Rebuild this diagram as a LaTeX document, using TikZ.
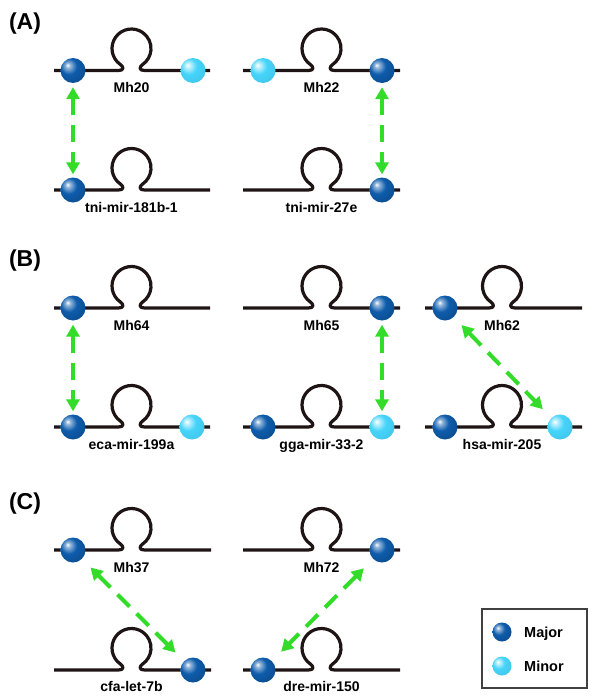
\documentclass[tikz,border=0pt]{standalone}
\usepackage{fontspec}
\setmainfont{Liberation Sans}
\usetikzlibrary{arrows.meta}
\definecolor{majorc}{RGB}{14,92,172}
\definecolor{minorc}{RGB}{70,212,250}
\definecolor{arrc}{RGB}{50,220,40}
\definecolor{rnac}{RGB}{30,20,20}
\pgfdeclareradialshading{majball}{\pgfpoint{-11bp}{11bp}}{%
  color(0bp)=(white); color(5bp)=(majorc!45!white); color(16bp)=(majorc);
  color(38bp)=(majorc!80!black); color(60bp)=(majorc!45!black); color(70bp)=(majorc!45!black)}
\pgfdeclareradialshading{minball}{\pgfpoint{-11bp}{11bp}}{%
  color(0bp)=(white); color(5bp)=(minorc!35!white); color(16bp)=(minorc);
  color(38bp)=(minorc!92!black); color(60bp)=(minorc!70!black); color(70bp)=(minorc!70!black)}
\newcommand\hairpin[4]{%
  \begin{scope}[shift={(#4,#1)}]
    \draw[rna] (#2-#4,0) -- (-13,0) .. controls (-7,0) and (-7.9,-3.7) .. (-11.18,-6.03)
      arc[start angle=125,end angle=415,radius=19.5]
      .. controls (7.9,-3.7) and (7,0) .. (13,0) -- (#3-#4,0);
  \end{scope}}
\begin{document}
\begin{tikzpicture}[x=1pt,y=-1pt,
  rna/.style={draw=rnac,line width=3.2pt,line join=round},
  majorball/.style={circle,inner sep=0pt,minimum size=25pt,shade,shading=majball},
  minorball/.style={circle,inner sep=0pt,minimum size=25pt,shade,shading=minball},
  lab/.style={font=\bfseries\fontsize{14}{16}\selectfont,inner sep=0pt,anchor=base},
  panel/.style={font=\bfseries\fontsize{23}{25}\selectfont,inner sep=0pt},
  arr/.style={draw=arrc,line width=4pt,dash pattern=on 17pt off 10pt,
    {Triangle[width=13pt,length=12pt]}-{Triangle[width=13pt,length=12pt]}},
  legball/.style={circle,inner sep=0pt,minimum size=19pt},
  legtext/.style={font=\bfseries\fontsize{14.5}{16}\selectfont,inner sep=0pt,anchor=base west}]
\useasboundingbox (0,0) rectangle (600,699);
\fill[white] (0,0) rectangle (600,699);

% panel labels
\node[panel] (pA) at (25,24) {(A)};
\node[panel] (pB) at (25,261) {(B)};
\node[panel] (pC) at (25,504) {(C)};

% ---------- A ----------
\hairpin{70.5}{54}{210}{131.5}
\hairpin{190}{54}{210}{131.5}
\hairpin{70.5}{243}{400}{321.5}
\hairpin{190}{243}{400}{321.5}
\node[majorball] (a1) at (73,70.5) {};
\node[minorball] (a2) at (193,70.5) {};
\node[majorball] (a3) at (73,190) {};
\node[minorball] (a4) at (263,70.5) {};
\node[majorball] (a5) at (382,70.5) {};
\node[majorball] (a6) at (382,190) {};
\node[lab] (lA1) at (131.5,92.5) {Mh20};
\node[lab] (lA2) at (131.5,212) {tni-mir-181b-1};
\node[lab] (lA3) at (321.5,92.5) {Mh22};
\node[lab] (lA4) at (321.5,212) {tni-mir-27e};
\draw[arr,shorten <=4pt,shorten >=3pt] (a1) -- (a3);
\draw[arr,shorten <=4pt,shorten >=3pt] (a5) -- (a6);

% ---------- B ----------
\hairpin{308}{54}{210}{131.5}
\hairpin{427}{54}{210}{131.5}
\hairpin{308}{243}{400}{321.5}
\hairpin{427}{243}{400}{321.5}
\hairpin{308}{425}{582}{502}
\hairpin{427}{425}{582}{502}
\node[majorball] (b1) at (73,308) {};
\node[majorball] (b2) at (73,427) {};
\node[minorball] (b3) at (192,427) {};
\node[majorball] (b4) at (382,308) {};
\node[majorball] (b5) at (263,427) {};
\node[minorball] (b6) at (382,427) {};
\node[majorball] (b7) at (445,308) {};
\node[majorball] (b8) at (445,427) {};
\node[minorball] (b9) at (560,427) {};
\node[lab] (lB1) at (131.5,330) {Mh64};
\node[lab] (lB2) at (131.5,449) {eca-mir-199a};
\node[lab] (lB3) at (321.5,330) {Mh65};
\node[lab] (lB4) at (321.5,449) {gga-mir-33-2};
\node[lab] (lB5) at (502,330) {Mh62};
\node[lab] (lB6) at (502,449) {hsa-mir-205};
\draw[arr,shorten <=4pt,shorten >=3pt] (b1) -- (b2);
\draw[arr,shorten <=4pt,shorten >=3pt] (b4) -- (b6);
\draw[arr,shorten <=11pt,shorten >=12pt] (b7) -- (b9);

% ---------- C ----------
\hairpin{550}{54}{211}{131.5}
\hairpin{670}{54}{211}{131.5}
\hairpin{550}{243}{400}{321.5}
\hairpin{670}{243}{400}{321.5}
\node[majorball] (c1) at (73,550) {};
\node[majorball] (c2) at (193,670) {};
\node[majorball] (c3) at (382,550) {};
\node[majorball] (c4) at (263,670) {};
\node[lab] (lC1) at (131.5,572) {Mh37};
\node[lab] (lC2) at (131.5,691) {cfa-let-7b};
\node[lab] (lC3) at (321.5,572) {Mh72};
\node[lab] (lC4) at (321.5,691) {dre-mir-150};
\draw[arr,shorten <=12pt,shorten >=12pt] (c1) -- (c2);
\draw[arr,shorten <=13pt,shorten >=13pt] (c3) -- (c4);

% ---------- legend ----------
\draw[draw=black!75,line width=1.2pt] (482,609) rectangle (587,688);
\node[legball,shade,shading=majball] (lgM) at (502,632) {};
\node[legball,shade,shading=minball] (lgm) at (502,666) {};
\node[legtext] (tM) at (524,637) {Major};
\node[legtext] (tm) at (524,671) {Minor};
\end{tikzpicture}
\end{document}
